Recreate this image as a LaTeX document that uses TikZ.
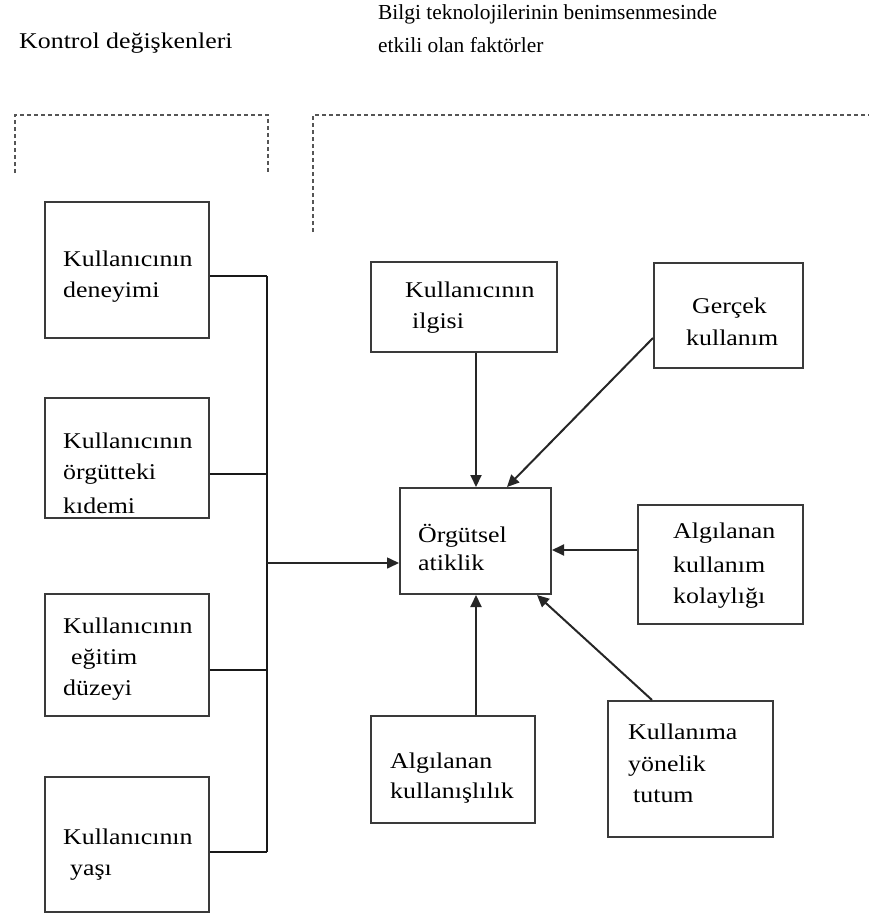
\documentclass[tikz,border=0pt]{standalone}
\usepackage{fontspec}
\setmainfont{Liberation Serif}[FakeStretch=1.15]
\newfontfamily\plainserif{Liberation Serif}
\usetikzlibrary{arrows.meta}
\definecolor{boxline}{HTML}{3A3A3A}
\definecolor{dashline}{HTML}{555555}
\tikzset{
  box/.style={draw=boxline, line width=2pt, inner sep=0pt},
  txt/.style={anchor=base west, inner sep=0pt, align=left, font={\fontsize{22.5}{31}\selectfont}},
  ttl/.style={anchor=base west, inner sep=0pt, align=left},
  bus/.style={draw=black!90, line width=1.6pt},
  arr/.style={draw=black!85, line width=2pt, -{Triangle[length=12pt,width=11pt]}},
  bracket/.style={draw=dashline, line width=1.6pt, dash pattern=on 4pt off 3pt}
}
\begin{document}
\begin{tikzpicture}[x=1pt,y=-1pt]
\useasboundingbox (0,0) rectangle (869,915);
% titles (base anchor = baseline of last line)
\node[ttl, font={\fontsize{22.5}{31}\selectfont}] (tk) at (19,49) {Kontrol değişkenleri};
\node[ttl, font={\plainserif\fontsize{21.4}{33}\selectfont}] (tb) at (378,53) {Bilgi teknolojilerinin benimsenmesinde\\etkili olan faktörler};
% dashed brackets
\draw[bracket] (15,173) -- (15,115) -- (268,115) -- (268,173);
\draw[bracket] (313,232) -- (313,115) -- (869,115);
% left boxes
\node[box, minimum width=164, minimum height=136] (b1) at (127,270) {};
\node[box, minimum width=164, minimum height=120] (b2) at (127,458) {};
\node[box, minimum width=164, minimum height=122] (b3) at (127,655) {};
\node[box, minimum width=164, minimum height=135] (b4) at (127,844.5) {};
\node[txt] (t1) at (63,297) {Kullanıcının\\deneyimi};
\node[txt] (t2) at (63,513) {Kullanıcının\\örgütteki\\[3pt]kıdemi};
\node[txt] (t3) at (63,695) {Kullanıcının\\\hspace{8pt}eğitim\\düzeyi};
\node[txt] (t4) at (63,875) {Kullanıcının\\\hspace{7pt}yaşı};
% centre and right boxes
\node[box, minimum width=151, minimum height=106] (c) at (475.5,541) {};
\node[box, minimum width=186, minimum height=90] (i) at (464,307) {};
\node[box, minimum width=149, minimum height=105] (g) at (728.5,315.5) {};
\node[box, minimum width=165, minimum height=119] (k) at (720.5,564.5) {};
\node[box, minimum width=164, minimum height=107] (l) at (453,769.5) {};
\node[box, minimum width=165, minimum height=136] (u) at (690.5,769) {};
\node[txt] (tc) at (418,570) {Örgütsel\\[-3pt]atiklik};
\node[txt] (ti) at (405,328) {Kullanıcının\\\hspace{7pt}ilgisi};
\node[txt] (tg) at (692,345) {Gerçek\\[1pt]\hspace{-6pt}kullanım};
\node[txt] (tkk) at (673,603) {Algılanan\\[3pt]kullanım\\kolaylığı};
\node[txt] (tl) at (390,798) {Algılanan\\[-1pt]kullanışlılık};
\node[txt] (tu) at (628,802) {Kullanıma\\[1pt]yönelik\\\hspace{5pt}tutum};
% bus of control variables
\coordinate (bt) at (267,276);
\coordinate (bb) at (267,852);
\coordinate (bm) at (267,563);
\draw[bus] (bt) -- (bb);
\draw[bus] (b1.east |- bt) -- (bt);
\draw[bus] (b2.east |- 0,474) -- (267,474);
\draw[bus] (b3.east |- 0,670) -- (267,670);
\draw[bus] (b4.east |- bb) -- (bb);
\draw[arr, line width=1.6pt] (bm) -- (bm -| c.west);
% arrows into centre
\draw[arr] ([xshift=12]i.south) -- ([xshift=12]i.south |- c.north);
\draw[arr] ([yshift=-22.5]g.west) -- ([xshift=31.5]c.north);
\draw[arr] ([yshift=14.5]k.west) -- ([yshift=14.5]k.west -| c.east);
\draw[arr] ([xshift=23]l.north) -- ([xshift=23]l.north |- c.south);
\draw[arr] ([xshift=-38.5]u.north) -- ([xshift=61.5]c.south);
\end{tikzpicture}
\end{document}
